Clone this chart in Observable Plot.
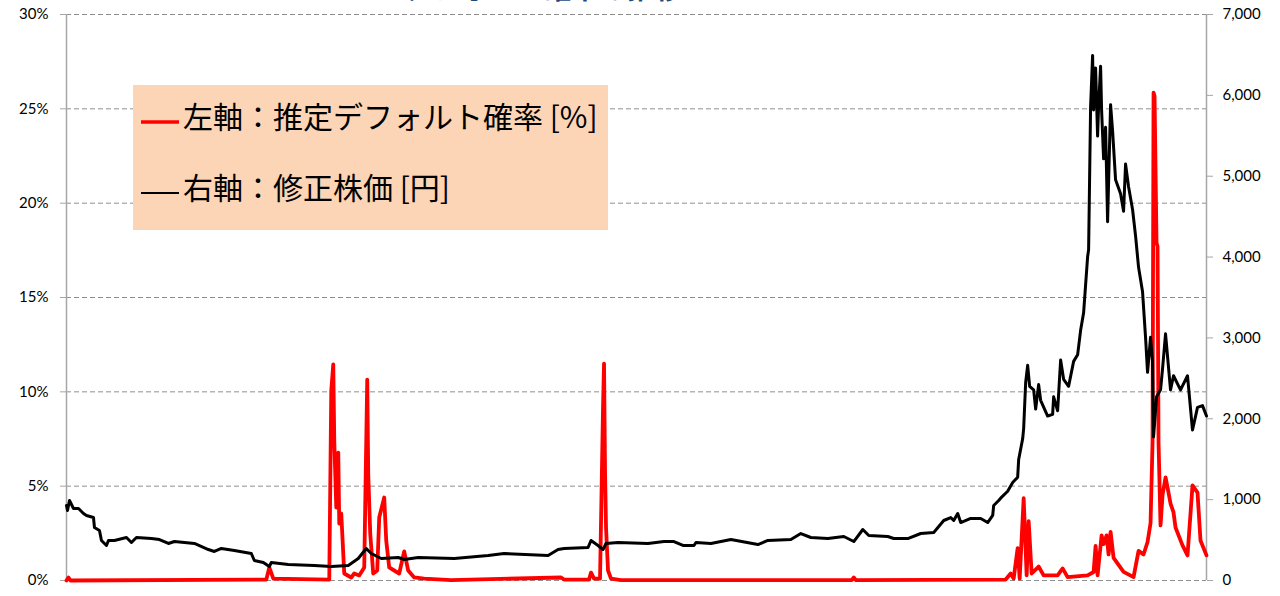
<!DOCTYPE html>
<html>
<head>
<meta charset="utf-8">
<script src="https://cdn.jsdelivr.net/npm/d3@7"></script>
<script src="https://cdn.jsdelivr.net/npm/@observablehq/plot@0.6"></script>
<style>
  html, body { margin: 0; padding: 0; background: #fff; }
  #wrap { position: relative; width: 1280px; height: 596px; overflow: hidden; }
  #overlay { position: absolute; left: 0; top: 0; pointer-events: none; }
</style>
</head>
<body>
<div id="wrap"></div>
<script>
// ---- data (time index on an arbitrary, evenly spaced axis) ----
const priceT = [0,1,3,7,12,17,20,27,28,33,35,40,42,48,60,65,70,85,93,102,108,128,142,148,155,168,185,188,197,203,205,222,248,265,282,292,300,305,315,332,338,352,388,422,438,482,492,498,522,525,532,537,540,552,582,598,608,617,628,630,645,665,692,702,725,735,745,762,778,788,797,803,822,828,842,855,868,878,885,888,892,895,905,915,922,927,928,933,935,942,947,952,953,957,958,960,962,964,968,970,973,975,982,987,988,992,995,998,1003,1008,1012,1015,1018,1022,1023,1025,1027,1028,1030,1032,1033,1035,1036,1038,1040,1042,1045,1047,1050,1055,1058,1060,1063,1067,1070,1073,1077,1080,1082,1085,1087,1088,1091,1095,1097,1100,1105,1108,1115,1122,1127,1132,1137,1141];
const priceV = [928,866,989,890,890,829,804,779,655,618,495,433,495,495,532,470,532,519,507,458,482,458,383,359,396,371,334,247,223,173,223,198,186,173,186,272,396,334,272,284,260,284,272,309,334,309,383,396,408,495,433,383,458,470,458,482,482,433,433,470,458,507,445,495,507,581,532,519,544,482,631,557,544,519,519,581,594,742,779,742,829,717,767,767,717,804,928,989,1018,1104,1212,1278,1496,1752,1882,2449,2661,2402,2358,2121,2423,2229,2034,2055,2272,2099,2727,2488,2402,2710,2791,3094,3311,4003,4090,5863,6493,5820,6339,5496,5863,6361,5820,5215,5605,4436,5885,5561,4955,4782,4566,5150,4869,4588,4263,3873,3570,3008,2575,3008,2705,1775,2272,2358,2618,3051,2358,2532,2358,2532,1861,2142,2163,2034];

const pdT = [0,2,4,200,203,207,263,265,267,268,270,272,273,275,278,285,288,293,298,301,302,304,307,311,313,318,320,323,328,333,338,342,348,358,385,495,498,523,525,528,534,537,538,539,540,542,545,555,786,788,790,940,945,948,952,954,958,961,963,966,973,978,992,997,1002,1022,1028,1030,1032,1036,1038,1041,1043,1045,1048,1053,1058,1068,1073,1078,1082,1085,1087,1088,1089,1091,1092,1093,1095,1097,1100,1102,1105,1108,1110,1117,1122,1127,1132,1135,1141];
const pdV = [0,0.16,0,0.05,0.69,0.1,0.05,10.07,11.45,7.42,3.87,6.78,3.02,3.55,0.37,0.16,0.37,0.27,0.69,10.65,5.67,2.49,0.37,0.53,3.34,4.40,2.12,0.69,0.53,0.37,1.54,0.53,0.16,0.1,0.02,0.16,0.05,0.05,0.42,0.1,0.1,9.17,11.5,5.83,2.81,0.53,0.1,0.02,0.02,0.16,0.02,0.05,0.37,0.1,1.72,0.1,4.36,0.27,3.15,0.37,0.74,0.27,0.27,0.64,0.18,0.27,0.45,1.83,0.27,2.39,1.93,2.39,1.38,2.58,1.20,0.83,0.46,0.18,1.57,1.38,2.04,3.05,7.32,25.86,25.68,17.9,17.7,7.32,2.92,4.54,5.46,4.93,4.08,3.61,2.81,1.86,1.33,5.04,4.66,2.12,1.33];

const leftTicks = [0,5,10,15,20,25,30];          // percent
const rightTicks = [0,1000,2000,3000,4000,5000,6000,7000]; // yen
const leftMax = 30, rightMax = 7000;

const legendLabels = ["左軸：推定デフォルト確率 [%]", "右軸：修正株価 [円]"];
const titleText = "デフォルト確率の推移";

// ---- build ----
const toLeft = v => v * leftMax / rightMax;
const price = priceT.map((t, i) => ({t, v: priceV[i]}));
const pd = pdT.map((t, i) => ({t, v: pdV[i]}));
const tMax = d3.max(priceT);

const grey = "#a6a6a6";
const font = "Lato, 'Noto Sans', sans-serif";

const chart = Plot.plot({
  width: 1280,
  height: 596,
  marginLeft: 66,
  marginRight: 74,
  marginTop: 14,
  marginBottom: 16,
  style: {fontFamily: font, fontSize: "15px", color: "#000", background: "transparent", overflow: "visible"},
  x: {domain: [0, tMax], axis: null},
  y: {domain: [0, leftMax], axis: null},
  marks: [
    Plot.gridY(leftTicks, {stroke: "#8f8f8f", strokeOpacity: 1, strokeWidth: 1, strokeDasharray: "5,3"}),
    Plot.ruleX([0, tMax], {stroke: grey, strokeWidth: 1.5}),
    Plot.axisY({anchor: "left", ticks: leftTicks, tickFormat: d => d + "%", tickSize: 6, tickPadding: 12, label: null, stroke: grey, fill: "#000", fontSize: 15}),
    Plot.axisY({anchor: "right", ticks: rightTicks.map(toLeft), tickFormat: d => d3.format(",")(Math.round(d * rightMax / leftMax)), tickSize: 6, tickPadding: 10, label: null, stroke: grey, fill: "#000", fontSize: 15}),
    Plot.line(pd, {x: "t", y: "v", stroke: "#ff0000", strokeWidth: 3.8, strokeLinejoin: "round"}),
    Plot.line(price, {x: "t", y: d => toLeft(d.v), stroke: "#000", strokeWidth: 3, strokeLinejoin: "round"})
  ]
});

const wrap = document.getElementById("wrap");
wrap.appendChild(chart);

// legend box + partial (cropped) title overlay
const svg = d3.select(wrap).append("svg").attr("id", "overlay").attr("width", 1280).attr("height", 596);
svg.append("text").attr("x", 543).attr("y", -1).attr("text-anchor", "middle")
  .attr("font-family", "'Noto Sans CJK JP', sans-serif").attr("font-size", 28).attr("font-weight", "bold")
  .attr("fill", "#1f497d").text(titleText);
const lg = svg.append("g");
lg.append("rect").attr("x", 133).attr("y", 85).attr("width", 475).attr("height", 145).attr("fill", "#fbd5b5");
const rows = [{c: "#ff0000", y: 122, w: 3.5}, {c: "#000", y: 193, w: 2}];
rows.forEach((r, i) => {
  lg.append("line").attr("x1", 141).attr("x2", 179).attr("y1", r.y).attr("y2", r.y).attr("stroke", r.c).attr("stroke-width", r.w);
  lg.append("text").attr("x", 183).attr("y", r.y + 6).attr("font-family", "'Noto Sans CJK JP', sans-serif")
    .attr("font-size", 30).attr("fill", "#000").text(legendLabels[i]);
});
</script>
</body>
</html>
